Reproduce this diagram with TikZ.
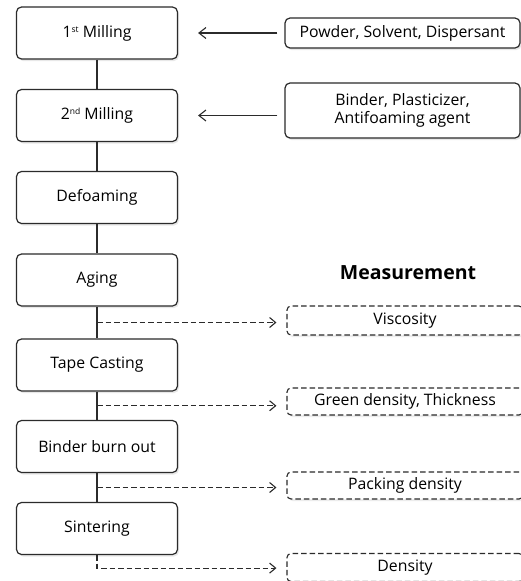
\documentclass[tikz,border=0pt]{standalone}
\usepackage{fontspec}
\setmainfont{Open Sans}
\usetikzlibrary{arrows.meta,shadows,calc}
\definecolor{ln}{HTML}{2B2B2B}
\newcommand{\supx}[1]{\raisebox{0.55ex}{\fontsize{8.5}{9}\selectfont #1}}
\begin{document}
\begin{tikzpicture}[x=1pt,y=-1pt,
  every node/.style={font=\fontsize{15.8}{18.5}\selectfont, text=black},
  proc/.style={draw=ln, line width=1.2pt, rounded corners=5pt, fill=white,
    minimum width=161pt, minimum height=52pt, inner sep=0pt,
    drop shadow={opacity=0.18, shadow xshift=1.5pt, shadow yshift=-2pt}},
  input/.style={draw=ln, line width=1.2pt, rounded corners=5pt, fill=white,
    minimum width=235pt, inner sep=0pt, align=center,
    drop shadow={opacity=0.18, shadow xshift=1.5pt, shadow yshift=-2pt}},
  meas/.style={draw=ln, line width=1.1pt, dash pattern=on 5.5pt off 3pt, rounded corners=4pt, fill=white,
    minimum width=236pt, minimum height=28pt, inner sep=0pt,
    drop shadow={opacity=0.15, shadow xshift=1.5pt, shadow yshift=-2pt}},
  conn/.style={draw=ln, line width=1.2pt},
  feed/.style={draw=ln, line width=1.1pt, -{Straight Barb[length=7pt,width=11pt,line width=1.1pt]}},
  dconn/.style={draw=ln, line width=1.1pt, dash pattern=on 5.5pt off 3pt, -{Straight Barb[length=6pt,width=10pt,line width=1.1pt]}},
]
\useasboundingbox (0,0) rectangle (521,581);
\clip (0,0) rectangle (521,581);
\fill[white] (0,0) rectangle (521,581);

% process boxes
\node[proc] (m1) at (97,33) {1\supx{st} Milling};
\node[proc] (m2) at (97,115.5) {2\supx{nd} Milling};
\node[proc] (df) at (97,197.5) {Defoaming};
\node[proc] (ag) at (97,280) {Aging};
\node[proc] (tc) at (97,365) {Tape Casting};
\node[proc] (bb) at (97,446.5) {Binder burn out};
\node[proc] (si) at (97,528.5) {Sintering};

% vertical connectors
\draw[conn] (m1.south) -- (m2.north);
\draw[conn] (m2.south) -- (df.north);
\draw[conn] (df.south) -- (ag.north);
\draw[conn] (ag.south) -- (tc.north);
\draw[conn] (tc.south) -- (bb.north);
\draw[conn] (bb.south) -- (si.north);

% inputs
\node[input, minimum height=30pt] (in1) at (402.5,33) {Powder, Solvent, Dispersant};
\node[input, minimum height=55pt] (in2) at (402.5,110.5) {Binder, Plasticizer,\\Antifoaming agent};
\draw[feed, shorten <=7pt, shorten >=20pt] (in1.west) -- (m1.east);
\draw[feed, shorten <=7pt, shorten >=20pt] (in2.west |- m2.east) -- (m2.east);

% measurement
\node[font=\bfseries\fontsize{19.5}{22}\selectfont] (mt) at (408,273) {Measurement};
\node[meas, minimum height=29pt] (v1) at (405,320.5) {Viscosity};
\node[meas, minimum height=27pt] (v2) at (405,401.5) {Green density, Thickness};
\node[meas, minimum height=27pt] (v3) at (405,485.5) {Packing density};
\node[meas, minimum height=28pt] (v4) at (405,567.5) {Density};

\coordinate (b1) at ($(ag.south)!0.5!(tc.north)$);
\coordinate (b2) at ($(tc.south)!0.5!(bb.north)$);
\coordinate (b3) at ($(bb.south)!0.5!(si.north)$);
\coordinate (b4) at ($(si.south)+(0,13)$);
\draw[dconn, shorten >=10pt] (b1) -- (b1 -| v1.west);
\draw[dconn, shorten >=10pt] (b2) -- (b2 -| v2.west);
\draw[dconn, shorten >=10pt] (b3) -- (b3 -| v3.west);
\draw[dconn, shorten >=10pt] (si.south) -- (b4) -- (b4 -| v4.west);
\end{tikzpicture}
\end{document}
